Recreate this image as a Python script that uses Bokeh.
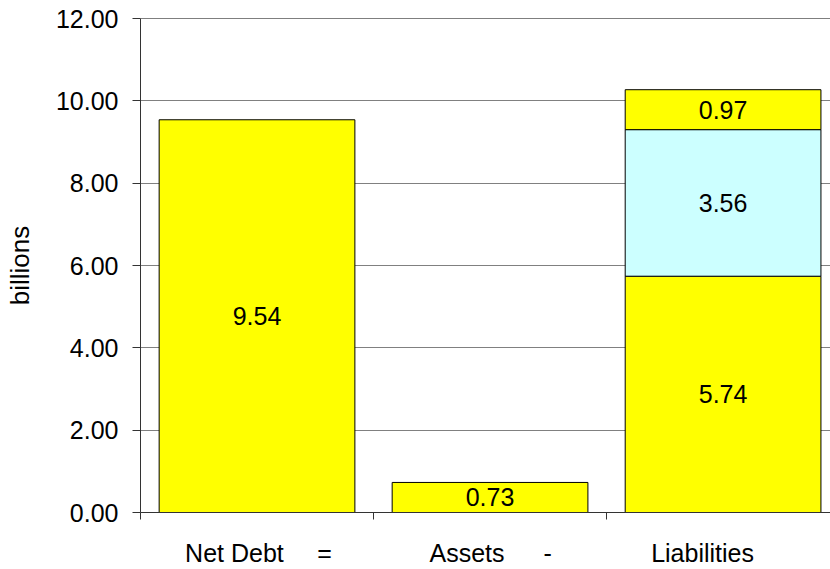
from bokeh.plotting import figure
from bokeh.models import FixedTicker, Range1d, Span, ColumnDataSource, CustomJSTickFormatter
from bokeh.core.properties import value
from bokeh.embed import file_html
from bokeh.resources import INLINE

# ---- data ----
categories = ["Net Debt", "Assets", "Liabilities"]
operators = ["=", "-"]
net_debt = [9.54]
assets = [0.73]
liabilities_parts = [5.74, 3.56, 0.97]
liabilities_colors = ["#FFFF00", "#CCFFFF", "#FFFF00"]
y_ticks = [0, 2, 4, 6, 8, 10, 12]

FONT = "Liberation Sans"

p = figure(width=830, height=569, output_backend="svg", toolbar_location=None,
           x_range=Range1d(-0.5, 2.461), y_range=Range1d(0, 12),
           min_border_left=140, min_border_right=0, min_border_top=18, min_border_bottom=10)
p.outline_line_color = None
p.background_fill_color = "white"
p.border_fill_color = "white"

# build bar segments
xs, bottoms, tops, fills, labels = [], [], [], [], []
xs.append(0); bottoms.append(0); tops.append(net_debt[0]); fills.append("#FFFF00"); labels.append(f"{net_debt[0]:.2f}")
xs.append(1); bottoms.append(0); tops.append(assets[0]); fills.append("#FFFF00"); labels.append(f"{assets[0]:.2f}")
base = 0.0
for v, c in zip(liabilities_parts, liabilities_colors):
    xs.append(2); bottoms.append(base); tops.append(base + v); fills.append(c); labels.append(f"{v:.2f}")
    base += v
mids = [(b + t) / 2 for b, t in zip(bottoms, tops)]
src = ColumnDataSource(dict(x=xs, bottom=bottoms, top=tops, fill=fills, label=labels, mid=mids))

p.ygrid.ticker = FixedTicker(ticks=y_ticks)
p.ygrid.grid_line_color = "#808080"
p.ygrid.grid_line_width = 1
p.xgrid.grid_line_color = None
p.add_layout(Span(location=12, dimension="width", line_color="#000000", line_width=1))

p.vbar(x="x", bottom="bottom", top="top", width=0.84, fill_color="fill",
       line_color="#000000", line_width=1, source=src)
p.text(x="x", y="mid", text="label", source=src, text_align="center", text_baseline="middle",
       text_font=value(FONT), text_font_size="25px", text_color="#000000")

# y axis
p.yaxis.ticker = FixedTicker(ticks=y_ticks)
p.yaxis.formatter = CustomJSTickFormatter(code="return tick.toFixed(2);")
p.yaxis.major_label_text_font = FONT
p.yaxis.major_label_text_font_size = "25px"
p.yaxis.major_label_text_color = "#000000"
p.yaxis.major_tick_out = 8
p.yaxis.major_tick_in = 0
p.yaxis.minor_tick_line_color = None
p.yaxis.major_label_standoff = 14
p.yaxis.axis_line_color = "#333333"
p.yaxis.major_tick_line_color = "#333333"
p.yaxis.axis_label = "billions"
p.yaxis.axis_label_text_font = FONT
p.yaxis.axis_label_text_font_size = "26px"
p.yaxis.axis_label_text_font_style = "normal"
p.yaxis.axis_label_text_color = "#000000"
p.yaxis.axis_label_standoff = 18

# x axis: labels at fixed positions, boundary tick marks as minor ticks
label_pos = [-0.097, 0.29, 0.901, 1.247, 1.912]
label_txt = [categories[0], operators[0], categories[1], operators[1], categories[2]]
boundaries = [-0.5, 0.5, 1.5]
p.xaxis.ticker = FixedTicker(ticks=label_pos, minor_ticks=boundaries)
p.xaxis.major_label_overrides = {pos: t for pos, t in zip(label_pos, label_txt)}
p.xaxis.major_tick_out = 0
p.xaxis.major_tick_in = 0
p.xaxis.major_tick_line_color = None
p.xaxis.minor_tick_out = 7
p.xaxis.minor_tick_in = 0
p.xaxis.minor_tick_line_color = "#333333"
p.xaxis.axis_line_color = "#333333"
p.xaxis.major_label_text_font = FONT
p.xaxis.major_label_text_font_size = "25px"
p.xaxis.major_label_text_color = "#000000"
p.xaxis.major_label_standoff = 19

open("out.html", "w").write(file_html(p, INLINE))
